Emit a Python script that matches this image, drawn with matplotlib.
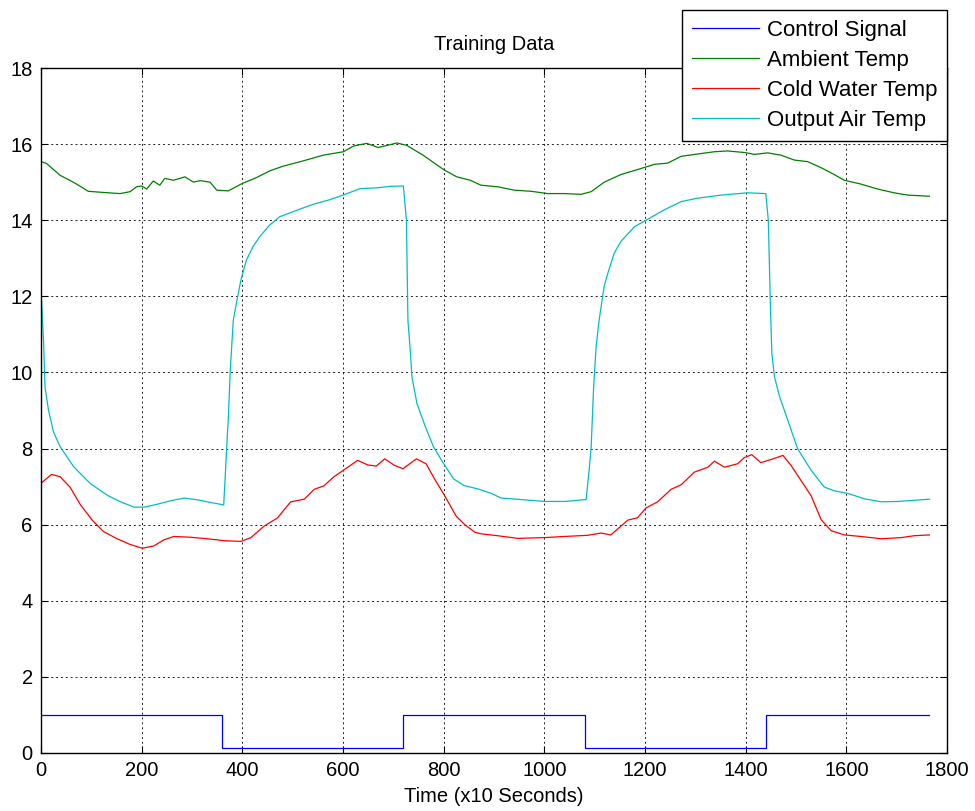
import matplotlib.pyplot as plt

# control signal (step levels between switch times)
ctrl_t = [0, 360, 720, 1080, 1440, 1765]
ctrl_v = [1.0, 0.12, 1.0, 0.12, 1.0, 1.0]

# ambient temp
amb_t = [0, 11, 38, 64, 77, 94, 124, 157, 177, 190, 200, 210, 223, 236, 246, 263, 286, 303,
         316, 336, 349, 372, 399, 428, 455, 481, 521, 561, 601, 621, 647, 670, 707, 726, 759,
         800, 826, 853, 874, 907, 940, 974, 1007, 1040, 1073, 1093, 1119, 1152, 1185, 1219,
         1245, 1272, 1305, 1338, 1364, 1397, 1417, 1444, 1470, 1497, 1523, 1550, 1576, 1596,
         1629, 1662, 1695, 1722, 1765]
amb_v = [15.54, 15.49, 15.18, 15.0, 14.9, 14.76, 14.73, 14.70, 14.75, 14.88, 14.9, 14.82, 15.03,
         14.92, 15.1, 15.05, 15.14, 15.0, 15.04, 15.0, 14.79, 14.77, 14.96, 15.12, 15.3, 15.42,
         15.56, 15.71, 15.8, 15.95, 16.02, 15.91, 16.03, 15.97, 15.71, 15.33, 15.14, 15.05, 14.92,
         14.88, 14.79, 14.76, 14.70, 14.70, 14.68, 14.75, 15.0, 15.2, 15.33, 15.47, 15.5, 15.68,
         15.74, 15.8, 15.82, 15.78, 15.73, 15.77, 15.71, 15.58, 15.54, 15.38, 15.2, 15.05, 14.95,
         14.82, 14.72, 14.66, 14.63]

# cold water temp
cold_t = [0, 21, 38, 58, 78, 101, 124, 151, 177, 201, 224, 244, 264, 297, 330, 363, 397, 417,
          443, 470, 496, 523, 543, 562, 582, 602, 629, 649, 666, 683, 702, 719, 746, 765, 782,
          802, 825, 842, 862, 874, 907, 947, 1000, 1040, 1086, 1113, 1132, 1152, 1166, 1185,
          1202, 1225, 1252, 1272, 1298, 1325, 1338, 1358, 1384, 1397, 1412, 1430, 1450, 1474,
          1490, 1510, 1530, 1550, 1570, 1596, 1629, 1669, 1709, 1735, 1765]
cold_v = [7.09, 7.32, 7.26, 6.98, 6.53, 6.13, 5.82, 5.63, 5.48, 5.38, 5.44, 5.6, 5.69, 5.67,
          5.63, 5.58, 5.56, 5.66, 5.96, 6.18, 6.6, 6.67, 6.93, 7.02, 7.26, 7.44, 7.69, 7.57,
          7.54, 7.73, 7.56, 7.47, 7.73, 7.6, 7.2, 6.76, 6.22, 6.0, 5.8, 5.76, 5.71, 5.64, 5.66,
          5.69, 5.72, 5.78, 5.73, 5.96, 6.12, 6.18, 6.44, 6.6, 6.93, 7.05, 7.38, 7.51, 7.67,
          7.51, 7.6, 7.76, 7.84, 7.63, 7.71, 7.82, 7.56, 7.16, 6.76, 6.13, 5.84, 5.73, 5.69,
          5.63, 5.66, 5.71, 5.73]

# output air temp
air_t = [0, 5, 8, 15, 25, 38, 65, 98, 132, 158, 185, 205, 232, 258, 285, 312, 338, 363,
         370, 372, 376, 382, 388, 397, 408, 421, 434, 454, 474, 508, 541, 574, 600, 634, 667,
         694, 720, 726, 729, 734, 737, 747, 764, 780, 800, 820, 840, 868, 895, 914, 954, 1000,
         1040, 1083, 1089, 1093, 1098, 1103, 1109, 1119, 1126, 1139, 1152, 1179, 1202, 1238,
         1272, 1305, 1351, 1404, 1440, 1445, 1449, 1452, 1457, 1467, 1483, 1503, 1530, 1556,
         1576, 1603, 1636, 1669, 1702, 1735, 1765]
air_v = [12.18, 10.84, 9.61, 9.0, 8.43, 8.05, 7.52, 7.08, 6.77, 6.6, 6.46, 6.46, 6.54, 6.63,
         6.7, 6.65, 6.58, 6.52, 8.3, 8.74, 10.05, 11.37, 11.8, 12.42, 12.95, 13.3, 13.56, 13.87,
         14.09, 14.26, 14.42, 14.54, 14.66, 14.83, 14.85, 14.89, 14.9, 14.0, 11.37, 10.5, 9.88,
         9.18, 8.56, 8.04, 7.6, 7.2, 7.03, 6.94, 6.82, 6.7, 6.66, 6.61, 6.61, 6.66, 7.43, 8.03,
         9.64, 10.69, 11.39, 12.27, 12.6, 13.14, 13.44, 13.83, 14.0, 14.27, 14.49, 14.58, 14.66,
         14.72, 14.7, 14.0, 11.83, 10.52, 9.9, 9.38, 8.77, 8.0, 7.43, 6.99, 6.89, 6.82, 6.68,
         6.6, 6.61, 6.64, 6.67]

plt.rcParams['font.family'] = ['Liberation Sans', 'DejaVu Sans']
plt.rcParams['font.size'] = 14.5

fig = plt.figure(figsize=(9.75, 8.11), dpi=100)
ax = fig.add_axes([41 / 975, 1 - 753 / 811, 906 / 975, 685 / 811])

lw = 0.9
ax.plot(ctrl_t, ctrl_v, drawstyle='steps-post', color='#0000ff', lw=lw, label='Control Signal')
ax.plot(amb_t, amb_v, color='#008000', lw=lw, label='Ambient Temp')
ax.plot(cold_t, cold_v, color='#ff0000', lw=lw, label='Cold Water Temp')
ax.plot(air_t, air_v, color='#00bfbf', lw=lw, label='Output Air Temp')

ax.set_xlim(0, 1800)
ax.set_ylim(0, 18)
ax.set_xticks(range(0, 1801, 200))
ax.set_yticks(range(0, 19, 2))
ax.grid(True, color='#222222', linestyle=(0, (2, 3)), linewidth=0.7)
ax.tick_params(direction='in', top=True, right=True, length=5, pad=6)
for s in ax.spines.values():
    s.set_linewidth(1.0)

ax.set_title('Training Data', fontsize=14.5, pad=13)
ax.set_xlabel('Time (x10 Seconds)', fontsize=14.5, labelpad=5)

# legend sits over the top-right corner, partly outside the axes
leg = ax.legend(loc='upper right', bbox_to_anchor=(947 / 975, 1 - 10 / 811),
                bbox_transform=fig.transFigure, borderaxespad=0, fancybox=False,
                framealpha=1, edgecolor='black', handlelength=3.0, handletextpad=0.35,
                labelspacing=0.4, borderpad=0.45, fontsize=16)
leg.get_frame().set_linewidth(1.0)

fig.savefig('out.png', dpi=100)
